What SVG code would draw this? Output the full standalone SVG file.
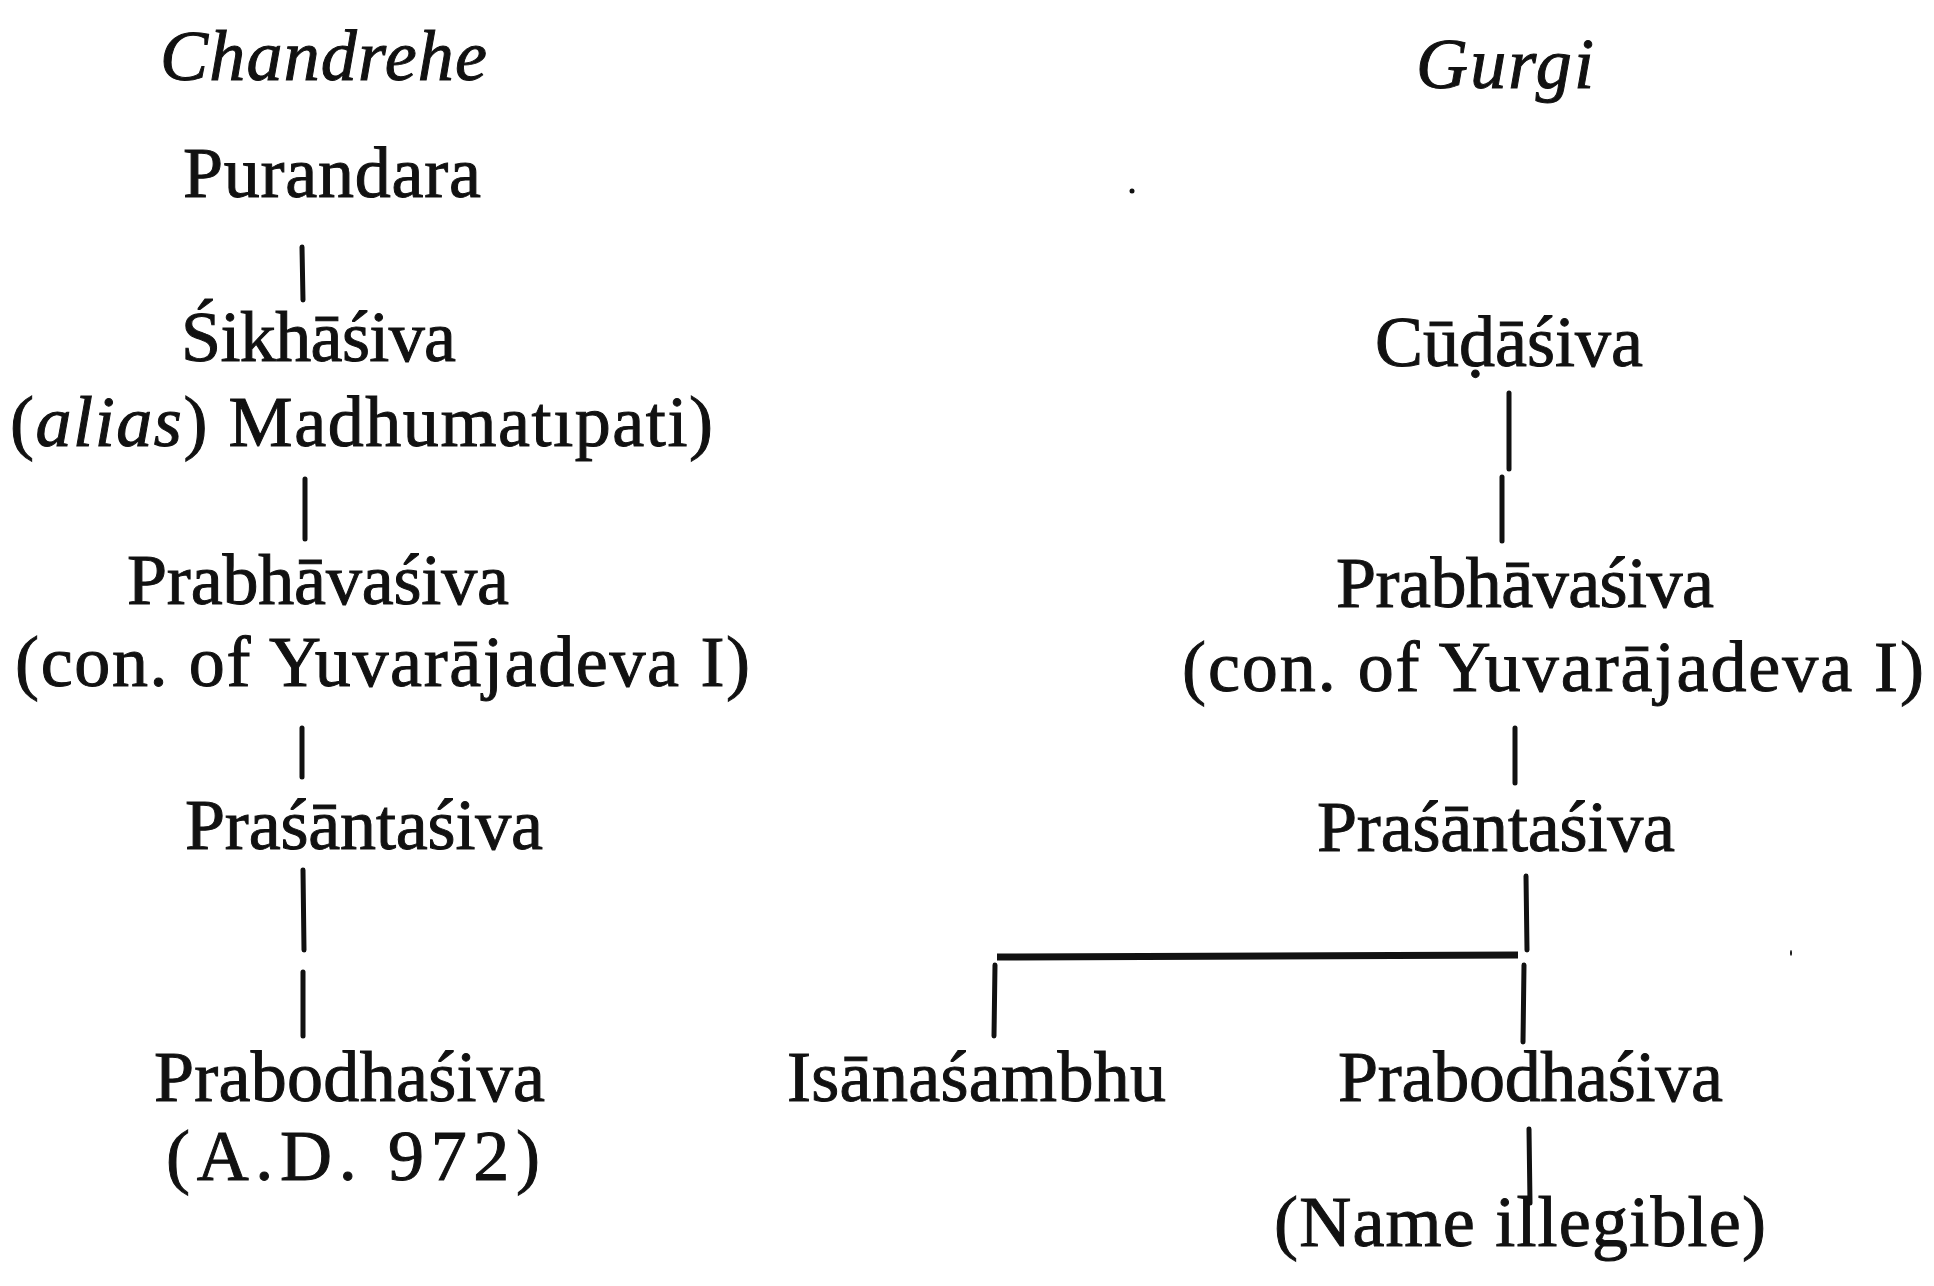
<svg xmlns="http://www.w3.org/2000/svg" width="1934" height="1286" viewBox="0 0 1934 1286">
<style>
text{font-family:"Liberation Serif","Times New Roman",serif;font-size:72px;fill:#111;stroke:#111;stroke-width:1}
.it{font-style:italic}
.ln{stroke:#111;stroke-width:5;stroke-linecap:round;fill:none}
.bar{stroke:#111;stroke-width:7;stroke-linecap:butt;fill:none}
</style>
<rect width="1934" height="1286" fill="#fff"/>
<g id="head-chandrehe"><text class="it" x="160" y="80" textLength="327" lengthAdjust="spacing">Chandrehe</text></g>
<g id="head-gurgi"><text class="it" x="1416" y="88" textLength="178" lengthAdjust="spacing">Gurgi</text></g>

<g id="c-purandara"><text x="183" y="197" textLength="298" lengthAdjust="spacing">Purandara</text></g>
<g id="c-sikhasiva"><text x="181" y="361" textLength="275" lengthAdjust="spacing">Śikhāśiva</text>
<text x="10" y="446" textLength="703" lengthAdjust="spacing">(<tspan class="it">alias</tspan>) Madhumatıpati)</text></g>
<g id="c-prabhavasiva"><text x="127" y="604" textLength="382" lengthAdjust="spacing">Prabhāvaśiva</text>
<text x="15" y="686" textLength="735" lengthAdjust="spacing">(con. of Yuvarājadeva I)</text></g>
<g id="c-prasantasiva"><text x="185" y="849" textLength="358" lengthAdjust="spacing">Praśāntaśiva</text></g>
<g id="c-prabodhasiva"><text x="154" y="1101" textLength="391" lengthAdjust="spacing">Prabodhaśiva</text>
<text x="166" y="1180" textLength="374" lengthAdjust="spacing">(A.D. 972)</text></g>

<g id="g-cudasiva"><text x="1375" y="366" textLength="268" lengthAdjust="spacing">Cūḍāśiva</text></g>
<g id="g-prabhavasiva"><text x="1336" y="607" textLength="378" lengthAdjust="spacing">Prabhāvaśiva</text>
<text x="1182" y="691" textLength="742" lengthAdjust="spacing">(con. of Yuvarājadeva I)</text></g>
<g id="g-prasantasiva"><text x="1317" y="851" textLength="358" lengthAdjust="spacing">Praśāntaśiva</text></g>
<g id="g-isanasambhu"><text x="787" y="1101" textLength="379" lengthAdjust="spacing">Isānaśambhu</text></g>
<g id="g-prabodhasiva"><text x="1338" y="1101" textLength="385" lengthAdjust="spacing">Prabodhaśiva</text></g>
<g id="g-illegible"><text x="1274" y="1246" textLength="492" lengthAdjust="spacing">(Name illegible)</text></g>

<g id="connectors">
<line class="ln" x1="302" y1="247" x2="303" y2="300"/>
<line class="ln" x1="305" y1="479" x2="305" y2="539"/>
<line class="ln" x1="302" y1="728" x2="302" y2="777"/>
<line class="ln" x1="303" y1="870" x2="304" y2="950"/>
<line class="ln" x1="303" y1="972" x2="303" y2="1036"/>
<line class="ln" x1="1509" y1="393" x2="1509" y2="469"/>
<line class="ln" x1="1502" y1="477" x2="1502" y2="541"/>
<line class="ln" x1="1515" y1="728" x2="1515" y2="783"/>
<line class="ln" x1="1526" y1="876" x2="1527" y2="950"/>
<line class="bar" x1="997" y1="957" x2="1518" y2="955"/>
<line class="ln" x1="995" y1="965" x2="994" y2="1036"/>
<line class="ln" x1="1524" y1="965" x2="1523" y2="1042"/>
<line class="ln" x1="1529" y1="1129" x2="1530" y2="1203"/>
</g>
<g id="specks">
<circle cx="1132" cy="191" r="2.5" fill="#111"/>
<ellipse cx="1791" cy="953" rx="1" ry="3" fill="#111"/>
</g>
</svg>
